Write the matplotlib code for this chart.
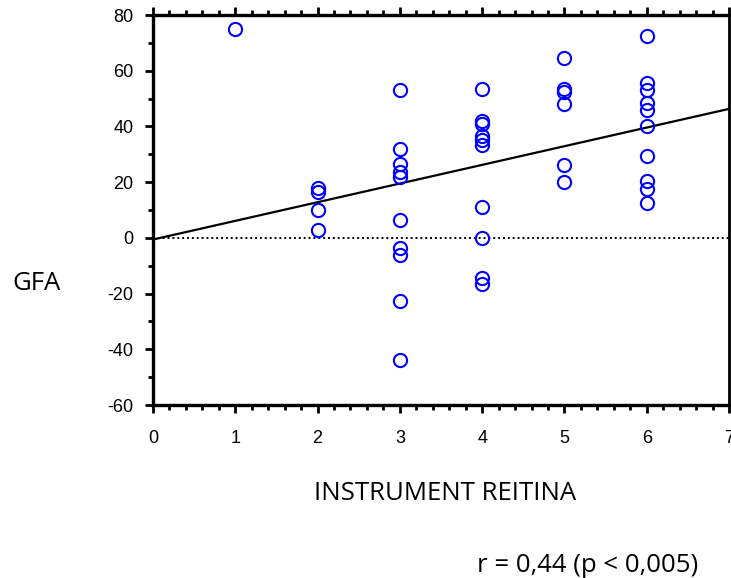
import matplotlib.pyplot as plt
from matplotlib.ticker import MultipleLocator

plt.rcParams["axes.unicode_minus"] = False

# Instrument score vs GFA, grouped by score
score = [1,
         2, 2, 2, 2,
         3, 3, 3, 3, 3, 3, 3, 3, 3, 3,
         4, 4, 4, 4, 4, 4, 4, 4, 4, 4,
         5, 5, 5, 5, 5, 5,
         6, 6, 6, 6, 6, 6, 6, 6, 6, 6]
gfa = [75,
       18, 16.5, 10, 3,
       53, 32, 26.5, 23.5, 22, 6.5, -3.5, -6, -22.5, -44,
       53.5, 42, 41, 36.5, 35, 33.5, 11, 0, -14.5, -16.5,
       64.5, 53.5, 52.5, 48, 26, 20,
       72.5, 55.5, 53, 48.5, 46, 40, 29.5, 20.5, 17.5, 12.5]

# Fitted regression line
fit_intercept = -0.6
fit_slope = 6.7
line_x = [0, 7]

fig = plt.figure(figsize=(7.31, 5.78), dpi=100)
ax = fig.add_axes([153 / 731, 173 / 578, 576 / 731, 390 / 578])

ax.plot(score, gfa, linestyle="none", marker="o", markersize=9.5,
        markerfacecolor="none", markeredgecolor="#0000ff", markeredgewidth=1.5,
        zorder=3)
ax.plot(line_x, [fit_intercept + fit_slope * x for x in line_x],
        color="black", linewidth=1.6, zorder=2)
ax.plot(line_x, [0, 0], color="black", linestyle=(0, (1, 1.5)),
        linewidth=1.4, zorder=1)

ax.set_xlim(0, 7)
ax.set_ylim(-60, 80)
ax.xaxis.set_major_locator(MultipleLocator(1))
ax.xaxis.set_minor_locator(MultipleLocator(0.2))
ax.yaxis.set_major_locator(MultipleLocator(20))
ax.yaxis.set_minor_locator(MultipleLocator(10))

for side in ["left", "bottom", "top"]:
    ax.spines[side].set_linewidth(2.4)
ax.spines["right"].set_linewidth(2.0)

ax.tick_params(which="major", direction="out", length=6, width=2,
               labelsize=13, top=True, right=False, pad=8)
ax.tick_params(which="minor", direction="out", length=3.5, width=2,
               top=True, right=False)
ax.tick_params(axis="x", which="both", labeltop=False)
ax.tick_params(axis="x", pad=12)

for lab in ax.get_xticklabels() + ax.get_yticklabels():
    lab.set_fontfamily("Liberation Sans")

fig.text(37 / 731, 1 - 283 / 578, "GFA", fontsize=18.5, fontfamily="Open Sans",
         ha="center", va="center")
fig.text(445 / 731, 1 - 493 / 578, "INSTRUMENT REITINA", fontsize=18.5,
         fontfamily="Open Sans", ha="center", va="center")
fig.text(588 / 731, 1 - 565 / 578, "r = 0,44 (p < 0,005)", fontsize=18.5,
         fontfamily="Open Sans", ha="center", va="center")

fig.savefig("out.png", dpi=100)
